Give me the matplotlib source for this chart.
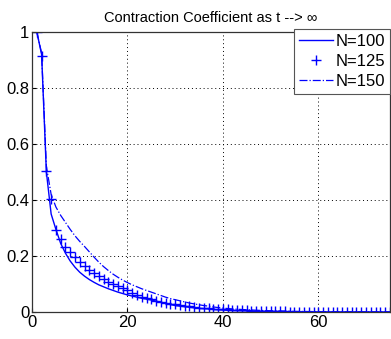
import numpy as np
import matplotlib
matplotlib.use("Agg")
import matplotlib.pyplot as plt

plt.rcParams['font.family'] = ['Liberation Sans', 'DejaVu Sans']

t = list(range(1, 76))

# N=100 (solid)
y100 = [1.0, 0.92, 0.50, 0.35, 0.295, 0.245, 0.21, 0.182, 0.16, 0.142,
        0.128, 0.116, 0.106, 0.097, 0.09, 0.083, 0.077, 0.071, 0.066, 0.061,
        0.057, 0.053, 0.049, 0.046, 0.043, 0.039, 0.035, 0.031, 0.027, 0.023,
        0.021, 0.019, 0.017, 0.015, 0.013, 0.012, 0.011, 0.009, 0.008, 0.007,
        0.006, 0.0055, 0.005, 0.0045, 0.004, 0.0035, 0.003, 0.0027, 0.0024, 0.002,
        0.0018, 0.0016, 0.0014, 0.0012, 0.001, 0.0009, 0.0008, 0.0007, 0.0006, 0.0005,
        0.0004, 0.0004, 0.0003, 0.0003, 0.0002, 0.0002, 0.0002, 0.0001, 0.0001, 0.0001,
        0.0001, 0.0, 0.0, 0.0, 0.0]

# N=125 (+ markers)
y125 = [1.0, 0.915, 0.505, 0.404, 0.293, 0.26, 0.233, 0.215, 0.195, 0.177,
        0.164, 0.15, 0.14, 0.129, 0.118, 0.108, 0.1, 0.093, 0.085, 0.077,
        0.069, 0.061, 0.055, 0.05, 0.045, 0.041, 0.037, 0.033, 0.03, 0.027,
        0.024, 0.022, 0.02, 0.018, 0.016, 0.014, 0.013, 0.012, 0.011, 0.01,
        0.009, 0.008, 0.007, 0.006, 0.0055, 0.005, 0.0045, 0.004, 0.0035, 0.003,
        0.0027, 0.0024, 0.002, 0.0018, 0.0016, 0.0014, 0.0012, 0.001, 0.0009, 0.0008,
        0.0007, 0.0006, 0.0005, 0.0004, 0.0004, 0.0003, 0.0003, 0.0002, 0.0002, 0.0002,
        0.0001, 0.0001, 0.0001, 0.0, 0.0]

# N=150 (dash-dot)
y150 = [1.0, 0.925, 0.52, 0.42, 0.375, 0.345, 0.32, 0.295, 0.272, 0.252,
        0.234, 0.215, 0.196, 0.178, 0.162, 0.148, 0.135, 0.124, 0.114, 0.105,
        0.097, 0.09, 0.083, 0.077, 0.071, 0.065, 0.059, 0.053, 0.048, 0.044,
        0.04, 0.036, 0.032, 0.029, 0.026, 0.023, 0.021, 0.018, 0.016, 0.014,
        0.0125, 0.011, 0.01, 0.009, 0.008, 0.0072, 0.0064, 0.0057, 0.005, 0.0045,
        0.004, 0.0036, 0.0032, 0.0028, 0.0025, 0.0022, 0.002, 0.0018, 0.0016, 0.0014,
        0.0012, 0.0011, 0.001, 0.0009, 0.0008, 0.0007, 0.0006, 0.0005, 0.0005, 0.0004,
        0.0004, 0.0003, 0.0003, 0.0002, 0.0002]

labels = ['N=100', 'N=125', 'N=150']
title = 'Contraction Coefficient as t --> \u221e'
xticks = [0, 20, 40, 60]
yticks = [0, 0.2, 0.4, 0.6, 0.8, 1]
ytick_labels = ['0', '0.2', '0.4', '0.6', '0.8', '1']

fig = plt.figure(figsize=(3.91, 3.39), dpi=100)
ax = fig.add_axes([0.082, 0.0796, 0.915, 0.826])

blue = (0, 0, 1)
ax.plot(t, y100, '-', color=blue, lw=1.0, label=labels[0])
ax.plot(t, y125, '+', color=blue, ms=6.5, mew=1.0, label=labels[1])
ax.plot(t, y150, '-.', color=blue, lw=0.9, label=labels[2])

ax.set_xlim(0, 75)
ax.set_ylim(0, 1)
ax.set_xticks(xticks)
ax.set_yticks(yticks)
ax.set_yticklabels(ytick_labels)
ax.tick_params(direction='in', length=3, labelsize=12, pad=2, color='black')
ax.grid(True, linestyle=(0, (1, 3)), color='black', linewidth=0.7)
for s in ax.spines.values():
    s.set_color('#333333')
    s.set_linewidth(0.9)

ax.set_title(title, fontsize=10.5, pad=7)

leg = ax.legend(loc='upper right', bbox_to_anchor=(1.0, 1.011), fontsize=12,
                frameon=True, fancybox=False, edgecolor='#555555', framealpha=1,
                borderpad=0.3, labelspacing=0.3, handlelength=2.0,
                handletextpad=0.15, borderaxespad=0.0)
leg.get_frame().set_linewidth(0.8)

fig.savefig('out.png', dpi=100)
